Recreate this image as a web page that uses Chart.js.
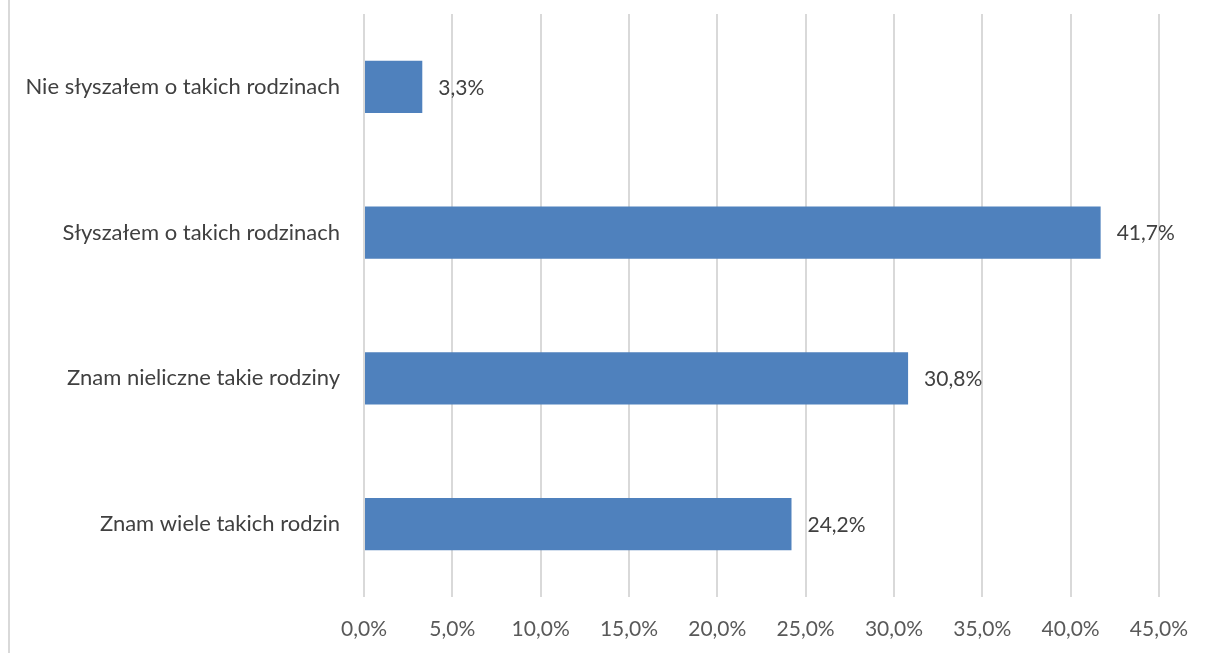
<!DOCTYPE html>
<html lang="pl">
<head>
<meta charset="utf-8">
<title>Znajomość rodzin</title>
<script src="https://cdn.jsdelivr.net/npm/chart.js@4/dist/chart.umd.min.js"></script>
<style>
    html, body { margin: 0; padding: 0; background: #fff; }
    #wrap { position: relative; width: 1208px; height: 653px; }
    #wrap::before { content: ''; position: absolute; left: 8px; top: 0; bottom: 0; width: 2px; background: #d9d9d9; }
</style>
</head>
<body>
<div id="wrap"><canvas id="chart" width="1208" height="653"></canvas></div>
<script>
// answers, top to bottom as in the reference
const categories = [
    'Nie słyszałem o takich rodzinach',
    'Słyszałem o takich rodzinach',
    'Znam nieliczne takie rodziny',
    'Znam wiele takich rodzin',
];
const shares = [3.3, 41.7, 30.8, 24.2];
const tickMin = 0;
const tickMax = 45;
const tickStep = 5;

const FONT = 'Lato, "Open Sans", sans-serif';
const fmt = (v) => v.toFixed(1).replace('.', ',') + '%';

// value labels to the right of each bar
const valueLabels = {
    id: 'valueLabels',
    afterDatasetsDraw(chart) {
        const { ctx } = chart;
        const meta = chart.getDatasetMeta(0);
        ctx.save();
        ctx.font = `21px ${FONT}`;
        ctx.fillStyle = '#404040';
        ctx.textAlign = 'left';
        ctx.textBaseline = 'middle';
        meta.data.forEach((bar, i) => {
            ctx.fillText(fmt(shares[i]), bar.x + 16, bar.y + 1);
        });
        ctx.restore();
    }
};

new Chart(document.getElementById('chart').getContext('2d'), {
    type: 'bar',
    data: {
        labels: categories,
        datasets: [{
            data: shares,
            backgroundColor: '#4f81bd',
            borderWidth: 0,
            barPercentage: 0.36,
            categoryPercentage: 1,
        }]
    },
    options: {
        indexAxis: 'y',
        responsive: false,
        animation: false,
        layout: { padding: { top: 14, right: 48, left: 10, bottom: 8 } },
        plugins: { legend: { display: false }, tooltip: { enabled: false } },
        scales: {
            x: {
                min: tickMin,
                max: tickMax,
                ticks: {
                    stepSize: tickStep,
                    padding: 20,
                    color: '#595959',
                    font: { family: FONT, size: 21 },
                    callback: (v) => fmt(v),
                },
                grid: { color: '#d9d9d9', lineWidth: 2, drawTicks: false },
                border: { display: false },
                afterFit: (s) => { s.height = 653 - 597 - 8; },
            },
            y: {
                ticks: {
                    padding: 16,
                    color: '#404040',
                    font: { family: FONT, size: 22 },
                },
                grid: { display: false },
                border: { display: false },
                afterFit: (s) => { s.width = 364 - 10; s.paddingTop = 0; s.paddingBottom = 0; },
            }
        }
    },
    plugins: [valueLabels]
});
</script>
</body>
</html>
